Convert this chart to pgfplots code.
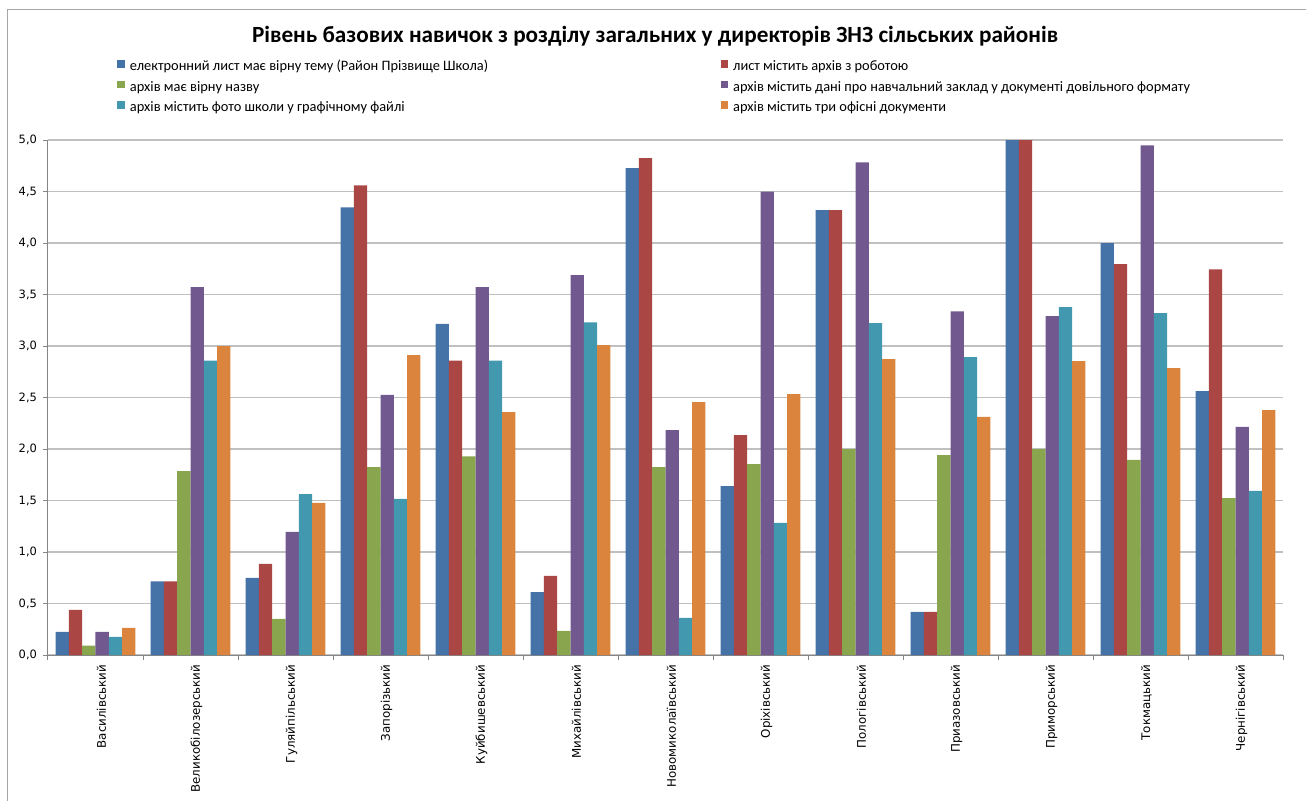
\documentclass[border=0pt]{standalone}
\usepackage{fontspec}
\setmainfont{Carlito}
\newfontfamily\dejavu{DejaVu Sans}
\usepackage{pgfplots}
\usepackage{pgfplotstable}
\pgfplotsset{compat=1.18}

\definecolor{sBlue}{HTML}{4572A7}
\definecolor{sRed}{HTML}{AA4643}
\definecolor{sGreen}{HTML}{89A54E}
\definecolor{sPurple}{HTML}{71588F}
\definecolor{sTeal}{HTML}{4198AF}
\definecolor{sOrange}{HTML}{DB843D}
\definecolor{gridgray}{HTML}{C0C0C0}
\definecolor{axisgray}{HTML}{868686}

% average score per district (0..5) for each of the six criteria
\pgfplotstableread{
idx  lyst   arkh   nazva  dani   foto   ofis
0    0.224  0.438  0.090  0.224  0.177  0.264
1    0.714  0.714  1.786  3.571  2.857  3.000
2    0.750  0.885  0.350  1.196  1.563  1.476
3    4.345  4.559  1.824  2.525  1.516  2.912
4    3.214  2.857  1.929  3.571  2.857  2.357
5    0.611  0.768  0.234  3.687  3.230  3.009
6    4.726  4.823  1.824  2.184  0.361  2.455
7    1.640  2.134  1.854  4.499  1.283  2.532
8    4.319  4.319  2.000  4.783  3.223  2.872
9    0.418  0.418  1.941  3.337  2.892  2.311
10   5.000  5.000  2.000  3.290  3.377  2.852
11   4.000  3.794  1.894  4.947  3.320  2.786
12   2.562  3.744  1.523  2.214  1.593  2.378
}\scores

\begin{document}
\begin{tikzpicture}
% the axis box has its lower left corner at the origin; 1 unit = 0.75pt below
\begin{axis}[
  scale only axis, width=926.25pt, height=386.25pt,
  ybar=0pt, bar width=0.14,
  xmin=-0.5, xmax=12.5, ymin=0, ymax=5,
  ytick={0,0.5,1,1.5,2,2.5,3,3.5,4,4.5,5},
  xtick={0,...,12},
  minor xtick={-0.5,0.5,1.5,2.5,3.5,4.5,5.5,6.5,7.5,8.5,9.5,10.5,11.5,12.5},
  xticklabels={Василівський,Великобілозерський,Гуляйпільський,Запорізький,Куйбишевський,Михайлівський,Новомиколаївський,Оріхівський,Пологівський,Приазовський,Приморський,Токмацький,Чернігівський},
  axis x line*=bottom, axis y line*=left,
  axis line style={draw=axisgray, line width=0.75pt, -},
  tick align=outside,
  major tick length=3.75pt, minor tick length=3.75pt,
  major x tick style={draw=none},
  minor x tick style={draw=axisgray, line width=0.75pt},
  ytick style={draw=axisgray, line width=0.75pt},
  ymajorgrids,
  grid style={draw=gridgray, line width=1.1pt},
  yticklabel style={font=\dejavu\fontsize{8.6}{10}\selectfont, xshift=-1pt},
  xticklabel style={font=\dejavu\fontsize{8.9}{10}\selectfont, rotate=90, anchor=east, yshift=-4.5pt},
  /pgf/number format/.cd, use comma, fixed, fixed zerofill, precision=1, assume math mode=true,
  /pgfplots/.cd,
  legend columns=2,
  legend cell align=left,
  legend style={at={(0.0559,1.156)}, anchor=north west, draw=none, fill=none,
    inner sep=0pt, row sep=4.9pt,
    font=\fontsize{10.8}{12}\selectfont,
    nodes={inner sep=0pt, text height=8pt, text depth=2.5pt},
    /tikz/every odd column/.append style={column sep=3.75pt}},
  legend image code/.code={\fill[#1] (0pt,-0.4pt) rectangle (5.7pt,5.3pt);},
  every axis plot/.append style={draw=none},
]
\addplot[fill=sBlue]   table[x=idx,y=lyst]  {\scores};
\addlegendentry{\makebox[443pt][l]{електронний лист має вірну тему (Район Прізвище Школа)}}
\addplot[fill=sRed]    table[x=idx,y=arkh]  {\scores};
\addlegendentry{лист містить архів з роботою}
\addplot[fill=sGreen]  table[x=idx,y=nazva] {\scores};
\addlegendentry{\makebox[443pt][l]{архів має вірну назву}}
\addplot[fill=sPurple] table[x=idx,y=dani]  {\scores};
\addlegendentry{архів містить дані про навчальний заклад у документі довільного формату}
\addplot[fill=sTeal]   table[x=idx,y=foto]  {\scores};
\addlegendentry{\makebox[443pt][l]{архів містить фото школи у графічному файлі}}
\addplot[fill=sOrange] table[x=idx,y=ofis]  {\scores};
\addlegendentry{архів містить три офісні документи}
\end{axis}
\begin{scope}[x=0.75pt,y=0.75pt,shift={(-48,-145)}]
% chart title
\node[font=\bfseries\fontsize{17.4}{20}\selectfont, anchor=center] at (655,764)
  {Рівень базових навичок з розділу загальних у директорів ЗНЗ сільських районів};
% chart frame
\draw[draw=black!35, line width=0.75pt] (7,-20) -- (7,790) -- (1330,790);
% page area
\pgfresetboundingbox
\path[use as bounding box] (0,0) rectangle (1306,800);
\end{scope}
\end{tikzpicture}
\end{document}
